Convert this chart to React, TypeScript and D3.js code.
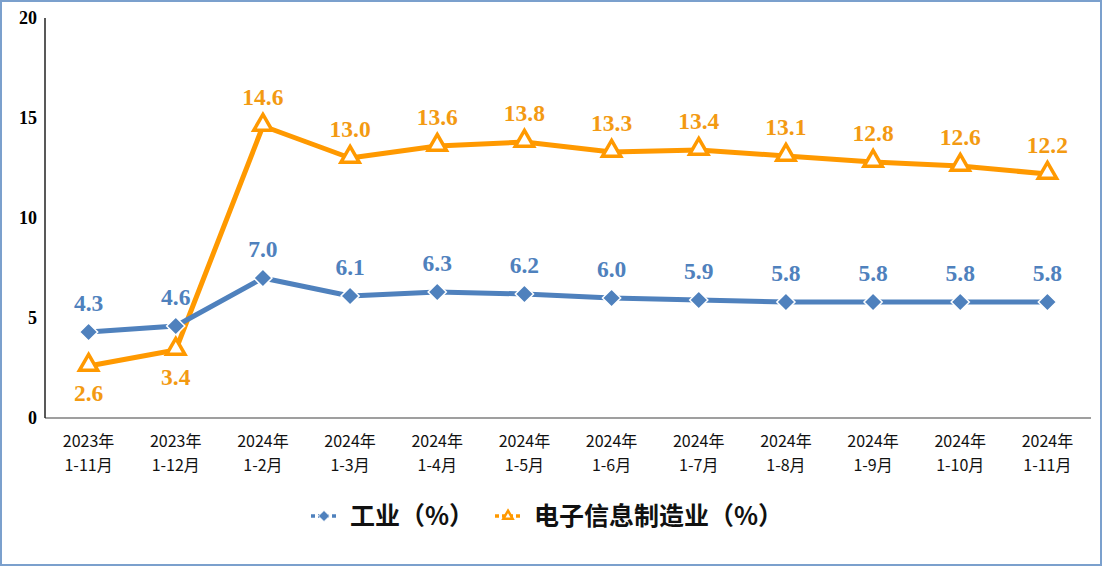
import React, {useEffect, useRef} from 'react';
import * as d3 from "d3";

const categories = [
    "2023年|1-11月", "2023年|1-12月", "2024年|1-2月", "2024年|1-3月",
    "2024年|1-4月", "2024年|1-5月", "2024年|1-6月", "2024年|1-7月",
    "2024年|1-8月", "2024年|1-9月", "2024年|1-10月", "2024年|1-11月"
];
const industry = [4.3, 4.6, 7.0, 6.1, 6.3, 6.2, 6.0, 5.9, 5.8, 5.8, 5.8, 5.8];
const electronics = [2.6, 3.4, 14.6, 13.0, 13.6, 13.8, 13.3, 13.4, 13.1, 12.8, 12.6, 12.2];
const yTicks = [0, 5, 10, 15, 20];
const seriesNames = ["工业（%）", "电子信息制造业（%）"];

const BLUE = "#4f81bd";
const ORANGE = "#ff9900";

const W = 1102, H = 566;

export default function App() {
    const ref = useRef<SVGSVGElement>(null);

    useEffect(() => {
        document.body.style.margin = "0";
        const svg = d3.select(ref.current);
        svg.selectAll("*").remove();

        const margin = {top: 18, left: 45, right: 11, bottom: 148};
        const x = d3.scaleBand().domain(categories).range([margin.left, W - margin.right]);
        const y = d3.scaleLinear().domain([0, 20]).range([H - margin.bottom, margin.top]);
        const cx = (i: number) => (x(categories[i]) as number) + x.bandwidth() / 2;

        // frame
        svg.append("rect")
            .attr("x", 1).attr("y", 1)
            .attr("width", W - 2).attr("height", H - 2)
            .attr("fill", "white")
            .attr("stroke", "#7ba0cd")
            .attr("stroke-width", 2);

        // axes
        svg.append("line")
            .attr("x1", margin.left).attr("x2", W - margin.right)
            .attr("y1", y(0)).attr("y2", y(0))
            .attr("stroke", "#7f7f7f").attr("stroke-width", 1.5);
        svg.append("line")
            .attr("x1", margin.left).attr("x2", margin.left)
            .attr("y1", y(0)).attr("y2", y(20))
            .attr("stroke", "#222").attr("stroke-width", 1.5);

        svg.append("g").selectAll("text").data(yTicks).join("text")
            .attr("x", 37).attr("y", d => y(d) + 6)
            .attr("text-anchor", "end")
            .attr("font-family", "'Liberation Serif', 'Times New Roman', serif")
            .attr("font-weight", "bold")
            .attr("font-size", 18)
            .text(d => d);

        const xl = svg.append("g").selectAll("text").data(categories).join("text")
            .attr("text-anchor", "middle")
            .attr("font-family", "'Noto Sans CJK SC', sans-serif")
            .attr("font-size", 16)
            .attr("fill", "#111");
        xl.append("tspan").attr("x", (d, i) => cx(i)).attr("y", y(0) + 29).text(d => d.split("|")[0]);
        xl.append("tspan").attr("x", (d, i) => cx(i)).attr("y", y(0) + 53).text(d => d.split("|")[1]);

        const line = d3.line<number>().x((d, i) => cx(i)).y(d => y(d));

        // electronics series
        svg.append("path").datum(electronics)
            .attr("d", line)
            .attr("fill", "none")
            .attr("stroke", ORANGE)
            .attr("stroke-width", 5)
            .attr("stroke-linejoin", "round");

        // industry series
        svg.append("path").datum(industry)
            .attr("d", line)
            .attr("fill", "none")
            .attr("stroke", BLUE)
            .attr("stroke-width", 5)
            .attr("stroke-linejoin", "round");

        const diamond = d3.symbol().type(d3.symbolDiamond2).size(210);
        const tri = d3.symbol().type(d3.symbolTriangle2).size(240);

        svg.append("g").selectAll("path").data(industry).join("path")
            .attr("d", diamond)
            .attr("transform", (d, i) => `translate(${cx(i)},${y(d)})`)
            .attr("fill", BLUE)
            .attr("stroke", "white")
            .attr("stroke-width", 1.5);

        svg.append("g").selectAll("path").data(electronics).join("path")
            .attr("d", tri)
            .attr("transform", (d, i) => `translate(${cx(i)},${y(d) - 1})`)
            .attr("fill", "white")
            .attr("stroke", ORANGE)
            .attr("stroke-width", 3.5)
            .attr("stroke-linejoin", "miter");

        const labelFont = "'Liberation Serif', 'Times New Roman', serif";
        svg.append("g").selectAll("text").data(industry).join("text")
            .attr("x", (d, i) => cx(i))
            .attr("y", d => y(d) - 21)
            .attr("text-anchor", "middle")
            .attr("font-family", labelFont)
            .attr("font-weight", "bold")
            .attr("font-size", 23.5)
            .attr("fill", BLUE)
            .text(d => d.toFixed(1));

        svg.append("g").selectAll("text").data(electronics).join("text")
            .attr("x", (d, i) => cx(i))
            .attr("y", (d, i) => i < 2 ? y(d) + 35 : y(d) - 21)
            .attr("text-anchor", "middle")
            .attr("font-family", labelFont)
            .attr("font-weight", "bold")
            .attr("font-size", 23.5)
            .attr("fill", "#f39a12")
            .text(d => d.toFixed(1));

        // legend
        const lg = svg.append("g").attr("transform", "translate(0,516)");
        const items = [
            {x: 311, color: BLUE, sym: "d", name: seriesNames[0]},
            {x: 495, color: ORANGE, sym: "t", name: seriesNames[1]}
        ];
        items.forEach(it => {
            lg.append("line")
                .attr("x1", it.x).attr("x2", it.x + 26)
                .attr("y1", 0).attr("y2", 0)
                .attr("stroke", it.color).attr("stroke-width", 3.5)
                .attr("stroke-dasharray", "4,3");
            if (it.sym === "d") {
                lg.append("path").attr("d", d3.symbol().type(d3.symbolDiamond2).size(80)())
                    .attr("transform", `translate(${it.x + 13},0)`)
                    .attr("fill", it.color).attr("stroke", "white").attr("stroke-width", 1);
            } else {
                lg.append("path").attr("d", d3.symbol().type(d3.symbolTriangle2).size(60)())
                    .attr("transform", `translate(${it.x + 13},0)`)
                    .attr("fill", "white").attr("stroke", it.color).attr("stroke-width", 2.5);
            }
            lg.append("text")
                .attr("x", it.x + 39).attr("y", 9)
                .attr("font-family", "'Noto Sans CJK SC', sans-serif")
                .attr("font-weight", "bold")
                .attr("font-size", 25)
                .attr("fill", "#111")
                .text(it.name);
        });
    }, []);

    return (
        <svg ref={ref} width={W} height={H} style={{display: "block"}}/>
    );
}
